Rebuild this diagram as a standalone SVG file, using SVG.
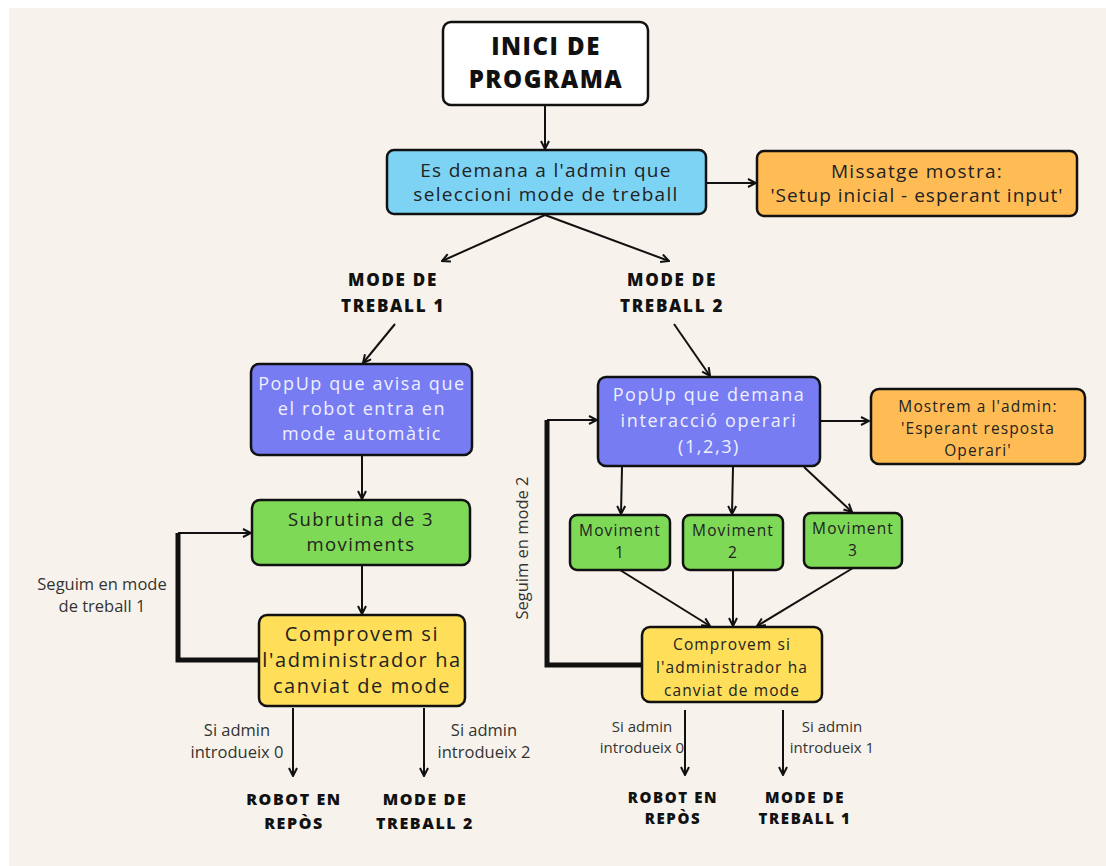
<svg xmlns="http://www.w3.org/2000/svg" width="1106" height="866" viewBox="0 0 1106 866">
  <defs>
    <marker id="arr" viewBox="0 0 10 10" refX="9" refY="5" markerWidth="10" markerHeight="10" markerUnits="userSpaceOnUse" orient="auto">
      <path d="M1,1 L9,5 L1,9" fill="none" stroke="#111" stroke-width="2" stroke-linejoin="miter"/>
    </marker>
    <style>
      .box { stroke: #111; stroke-width: 2.5; }
      .white { fill: #ffffff; }
      .blue { fill: #7dd3f3; }
      .orange { fill: #ffbc55; }
      .purple { fill: #777cf3; }
      .green { fill: #7ed957; }
      .yellow { fill: #ffde59; }
      .t { font-family: "Open Sans", "Liberation Sans", sans-serif; text-anchor: middle; fill: #222; }
      .node { font-size: 19px; letter-spacing: 1.3px; }
      .pop { font-size: 18px; fill: #eef0ff; letter-spacing: 1.6px; }
      .small { font-size: 15.5px; letter-spacing: 1.1px; }
      .head { font-family: "Open Sans", "DejaVu Sans", sans-serif; font-weight: 800; font-size: 16px; letter-spacing: 1.6px; text-anchor: middle; fill: #111; }
      .mode { font-size: 17px; letter-spacing: 1.7px; }
      .note { font-family: "Open Sans", "Liberation Sans", sans-serif; font-size: 16.5px; text-anchor: middle; fill: #333; }
      .ln { stroke: #111; stroke-width: 2; fill: none; }
      .thick { stroke: #111; stroke-width: 5; fill: none; }
    </style>
  </defs>

  <!-- page background -->
  <rect x="0" y="0" width="1106" height="866" fill="#ffffff"/>
  <rect x="9" y="8" width="1097" height="858" fill="#f7f3ec"/>

  <!-- connectors -->
  <g id="connectors">
    <line class="ln" x1="545" y1="105" x2="545" y2="149" marker-end="url(#arr)"/>
    <line class="ln" x1="706" y1="183" x2="756" y2="183" marker-end="url(#arr)"/>
    <line class="ln" x1="545" y1="215" x2="442" y2="261" marker-end="url(#arr)"/>
    <line class="ln" x1="545" y1="215" x2="669" y2="261" marker-end="url(#arr)"/>
    <line class="ln" x1="395" y1="324" x2="363" y2="363" marker-end="url(#arr)"/>
    <line class="ln" x1="674" y1="324" x2="710" y2="376" marker-end="url(#arr)"/>
    <line class="ln" x1="362" y1="455" x2="362" y2="499" marker-end="url(#arr)"/>
    <line class="ln" x1="362" y1="565" x2="362" y2="614" marker-end="url(#arr)"/>
    <!-- loop: keep working in mode 1 -->
    <polyline class="thick" points="259,660 178,660 178,533"/>
    <line class="ln" x1="178" y1="533" x2="251" y2="533" marker-end="url(#arr)"/>
    <line class="ln" x1="293" y1="708" x2="293" y2="776" marker-end="url(#arr)"/>
    <line class="ln" x1="424" y1="708" x2="424" y2="776" marker-end="url(#arr)"/>
    <!-- mode 2 -->
    <line class="ln" x1="820" y1="421" x2="869" y2="421" marker-end="url(#arr)"/>
    <line class="ln" x1="622" y1="467" x2="621" y2="514" marker-end="url(#arr)"/>
    <line class="ln" x1="733" y1="467" x2="732" y2="514" marker-end="url(#arr)"/>
    <line class="ln" x1="804" y1="467" x2="852" y2="512" marker-end="url(#arr)"/>
    <line class="ln" x1="620" y1="570" x2="710" y2="626" marker-end="url(#arr)"/>
    <line class="ln" x1="733" y1="570" x2="733" y2="626" marker-end="url(#arr)"/>
    <line class="ln" x1="853" y1="568" x2="757" y2="626" marker-end="url(#arr)"/>
    <!-- loop: keep working in mode 2 -->
    <polyline class="thick" points="642,665 547,665 547,420"/>
    <line class="ln" x1="547" y1="420" x2="597" y2="420" marker-end="url(#arr)"/>
    <line class="ln" x1="685" y1="710" x2="685" y2="775" marker-end="url(#arr)"/>
    <line class="ln" x1="783" y1="710" x2="783" y2="775" marker-end="url(#arr)"/>
  </g>

  <g id="inici">
    <rect class="box white" x="443" y="22" width="205" height="83" rx="8"/>
    <text class="head" x="546" y="55" style="font-size:24px;letter-spacing:1.5px">INICI DE</text>
    <text class="head" x="546" y="88" style="font-size:24px;letter-spacing:1.5px">PROGRAMA</text>
  </g>

  <g id="seleccio">
    <rect class="box blue" x="387" y="150" width="319" height="64" rx="7"/>
    <text class="t node" x="546" y="177">Es demana a l'admin que</text>
    <text class="t node" x="546" y="201">seleccioni mode de treball</text>
  </g>

  <g id="missatge">
    <rect class="box orange" x="757" y="151" width="320" height="65" rx="7"/>
    <text class="t node" x="917" y="178">Missatge mostra:</text>
    <text class="t node" x="917" y="202" style="letter-spacing:1px">'Setup inicial - esperant input'</text>
  </g>

  <g id="mode1">
    <text class="head mode" x="393" y="286">MODE DE</text>
    <text class="head mode" x="393" y="312">TREBALL 1</text>
  </g>

  <g id="mode2">
    <text class="head mode" x="672" y="286">MODE DE</text>
    <text class="head mode" x="672" y="312">TREBALL 2</text>
  </g>

  <g id="popup-auto">
    <rect class="box purple" x="251" y="364" width="221" height="91" rx="8"/>
    <text class="t pop" x="362" y="390">PopUp que avisa que</text>
    <text class="t pop" x="362" y="415">el robot entra en</text>
    <text class="t pop" x="362" y="440">mode automàtic</text>
  </g>

  <g id="subrutina">
    <rect class="box green" x="252" y="500" width="218" height="65" rx="8"/>
    <text class="t node" x="361" y="526" style="letter-spacing:1.4px;font-size:18.5px">Subrutina de 3</text>
    <text class="t node" x="361" y="551" style="letter-spacing:1.4px;font-size:18.5px">moviments</text>
  </g>

  <g id="comprova1">
    <rect class="box yellow" x="259" y="615" width="206" height="91" rx="8"/>
    <text class="t node" x="362" y="641" style="font-size:20px;letter-spacing:1.6px">Comprovem si</text>
    <text class="t node" x="362" y="667" style="font-size:20px;letter-spacing:1.6px">l'administrador ha</text>
    <text class="t node" x="362" y="693" style="font-size:20px;letter-spacing:1.6px">canviat de mode</text>
  </g>

  <g id="seguim1">
    <text class="note" x="102" y="590">Seguim en mode</text>
    <text class="note" x="102" y="612">de treball 1</text>
  </g>

  <g id="cond1">
    <text class="note" x="237" y="736">Si admin</text>
    <text class="note" x="237" y="758">introdueix 0</text>
    <text class="note" x="484" y="736">Si admin</text>
    <text class="note" x="484" y="758">introdueix 2</text>
  </g>

  <g id="repos1">
    <text class="head" x="294" y="805">ROBOT EN</text>
    <text class="head" x="294" y="829">REPÒS</text>
  </g>

  <g id="treball2">
    <text class="head" x="425" y="805">MODE DE</text>
    <text class="head" x="425" y="829">TREBALL 2</text>
  </g>

  <g id="popup-operari">
    <rect class="box purple" x="598" y="377" width="222" height="89" rx="8"/>
    <text class="t pop" x="709" y="401">PopUp que demana</text>
    <text class="t pop" x="709" y="427">interacció operari</text>
    <text class="t pop" x="709" y="453">(1,2,3)</text>
  </g>

  <g id="mostrem">
    <rect class="box orange" x="871" y="389" width="214" height="75" rx="8"/>
    <text class="t small" x="978" y="412">Mostrem a l'admin:</text>
    <text class="t small" x="978" y="434">'Esperant resposta</text>
    <text class="t small" x="978" y="456">Operari'</text>
  </g>

  <g id="moviment1">
    <rect class="box green" x="570" y="515" width="100" height="55" rx="7"/>
    <text class="t small" x="620" y="536">Moviment</text>
    <text class="t small" x="620" y="558">1</text>
  </g>

  <g id="moviment2">
    <rect class="box green" x="683" y="515" width="100" height="55" rx="7"/>
    <text class="t small" x="733" y="536">Moviment</text>
    <text class="t small" x="733" y="558">2</text>
  </g>

  <g id="moviment3">
    <rect class="box green" x="804" y="513" width="98" height="55" rx="7"/>
    <text class="t small" x="853" y="534">Moviment</text>
    <text class="t small" x="853" y="556">3</text>
  </g>

  <g id="comprova2">
    <rect class="box yellow" x="642" y="627" width="180" height="75" rx="8"/>
    <text class="t small" x="732" y="650">Comprovem si</text>
    <text class="t small" x="732" y="673">l'administrador ha</text>
    <text class="t small" x="732" y="696">canviat de mode</text>
  </g>

  <g id="seguim2">
    <text class="note" x="0" y="0" transform="translate(528,548) rotate(-90)">Seguim en mode 2</text>
  </g>

  <g id="cond2">
    <text class="note" x="642" y="732" style="font-size:15px">Si admin</text>
    <text class="note" x="642" y="753" style="font-size:15px">introdueix 0</text>
    <text class="note" x="832" y="732" style="font-size:15px">Si admin</text>
    <text class="note" x="832" y="753" style="font-size:15px">introdueix 1</text>
  </g>

  <g id="repos2">
    <text class="head" x="673" y="803" style="font-size:15px">ROBOT EN</text>
    <text class="head" x="673" y="824" style="font-size:15px">REPÒS</text>
  </g>

  <g id="treball1">
    <text class="head" x="805" y="803" style="font-size:15px">MODE DE</text>
    <text class="head" x="805" y="824" style="font-size:15px">TREBALL 1</text>
  </g>
</svg>
